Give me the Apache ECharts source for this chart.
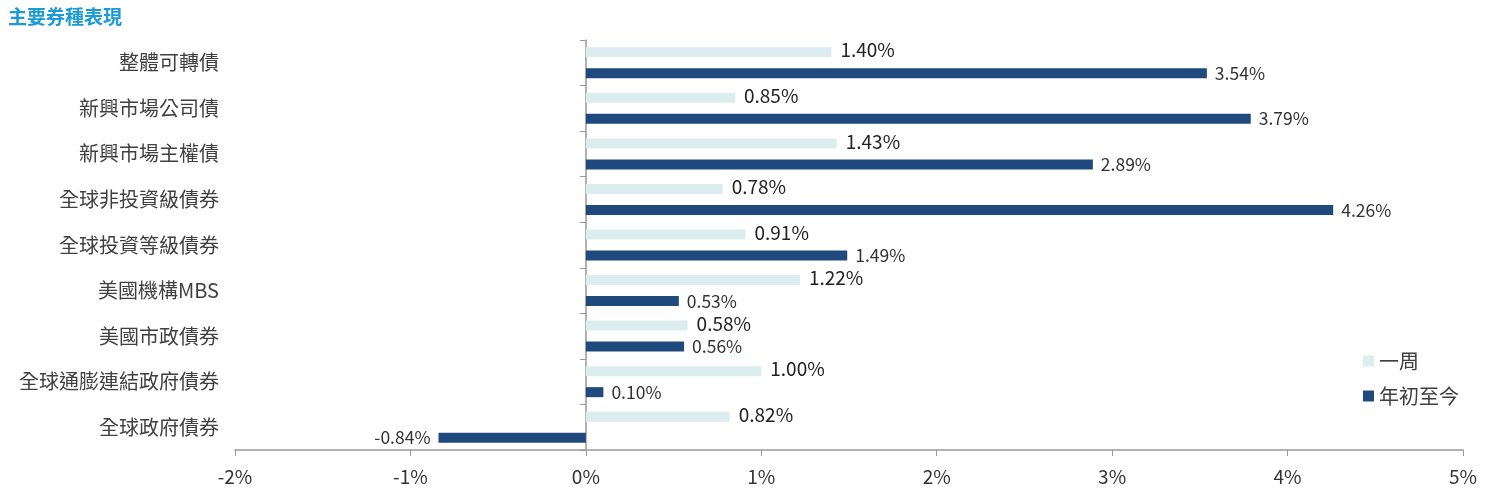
<!DOCTYPE html>
<html><head><meta charset="utf-8">
<script src="https://cdn.jsdelivr.net/npm/echarts@6/dist/echarts.min.js"></script>
<style>html,body{margin:0;padding:0;background:#fff}#c{width:1485px;height:495px}</style>
</head><body><div id="c"></div>
<script>
const categories = ['整體可轉債','新興市場公司債','新興市場主權債','全球非投資級債券','全球投資等級債券','美國機構MBS','美國市政債券','全球通膨連結政府債券','全球政府債券'];
const weekValues = [1.40,0.85,1.43,0.78,0.91,1.22,0.58,1.00,0.82];
const ytdValues = [3.54,3.79,2.89,4.26,1.49,0.53,0.56,0.10,-0.84];
const xTicks = [-2,-1,0,1,2,3,4,5];
const seriesNames = ['一周','年初至今'];
const titleText = '主要券種表現';
const font = '"Noto Sans CJK TC","Microsoft JhengHei",sans-serif';

const chart = echarts.init(document.getElementById('c'));
chart.setOption({
  animation:false,
  textStyle:{fontFamily:font},
  title:{text:titleText,left:3,top:2,textStyle:{color:'#1a9bd8',fontSize:19,fontWeight:'bold',fontFamily:font}},
  legend:{orient:'vertical',left:1358,top:346,itemWidth:11,itemHeight:11,itemGap:15,icon:'rect',
    textStyle:{fontSize:20,color:'#404040',fontFamily:font},data:seriesNames},
  grid:{left:235,right:22,top:40,bottom:45},
  xAxis:{type:'value',min:xTicks[0],max:xTicks[xTicks.length-1],interval:1,
    axisLine:{show:true,onZero:false,lineStyle:{color:'#999',width:1.5}},
    axisTick:{show:true,length:6,lineStyle:{color:'#999'}},
    splitLine:{show:false},
    axisLabel:{fontSize:19,color:'#333',margin:17,formatter:v=>v+'%',fontFamily:font}},
  yAxis:[
    {type:'category',data:categories,inverse:true,
     axisLine:{show:true,onZero:true,lineStyle:{color:'#999',width:1.5}},
     axisTick:{show:true,length:6,lineStyle:{color:'#999'}},
     axisLabel:{show:false}},
    {type:'category',data:categories,inverse:true,position:'left',
     axisLine:{show:false,onZero:false},axisTick:{show:false},
     axisLabel:{fontSize:20,color:'#404040',margin:16,fontFamily:font}}
  ],
  series:[
    {name:seriesNames[0],type:'bar',data:weekValues,barWidth:10,barGap:'110%',yAxisIndex:0,
     itemStyle:{color:'#dcedf0'},
     label:{show:true,position:'right',distance:9,fontSize:19,color:'#222',offset:[0,-2],formatter:p=>p.value.toFixed(2)+'%',fontFamily:font}},
    {name:seriesNames[1],type:'bar',barWidth:10,yAxisIndex:0,
     data:ytdValues.map(v=>({value:v,label:{position:v<0?'left':'right'}})),
     itemStyle:{color:'#204a7d'},
     label:{show:true,fontSize:17.5,color:'#333',distance:8,fontFamily:font,formatter:p=>p.value.toFixed(2)+'%'}}
  ]
});
</script></body></html>
